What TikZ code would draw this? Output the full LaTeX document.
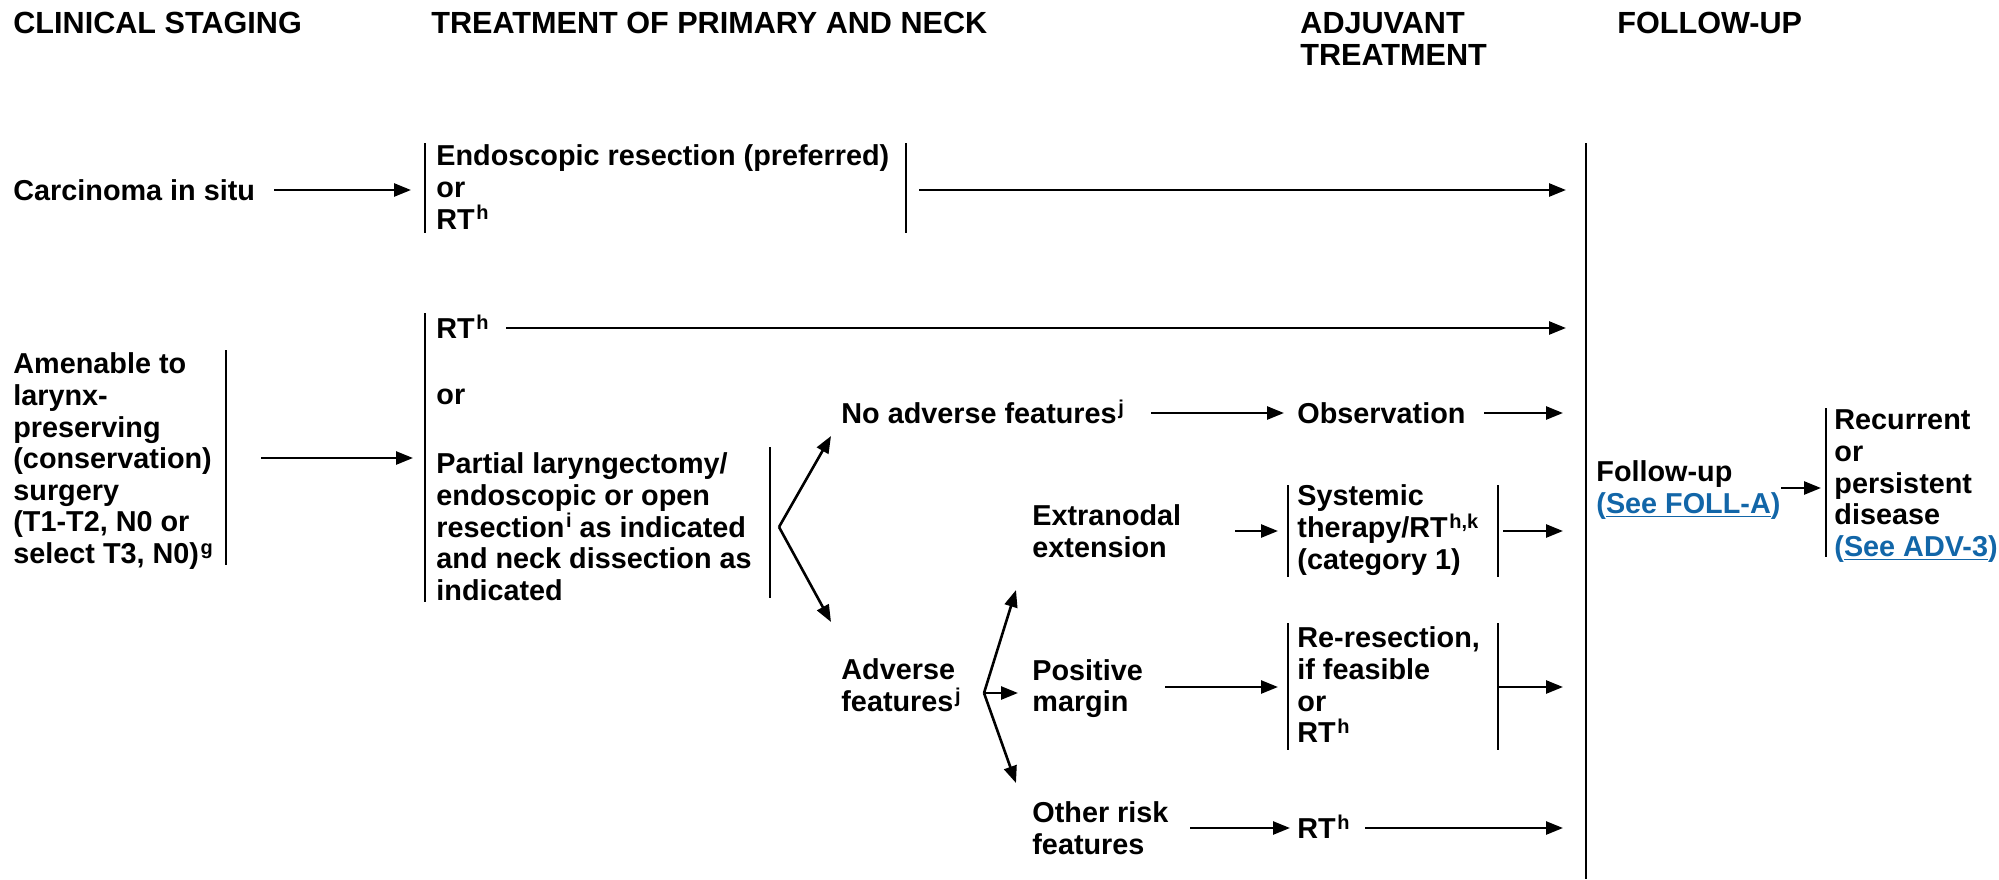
\documentclass[tikz,border=0pt]{standalone}
\usepackage{fontspec}
\setmainfont{Liberation Sans}
\usetikzlibrary{arrows.meta}
\definecolor{linkblue}{RGB}{18,102,168}
% raised footnote letter
\newcommand\sups[1]{\kern0.8pt\raisebox{4.6pt}{\fontsize{10}{10}\selectfont #1}}
% cross-reference link
\newcommand\lnk[1]{\textcolor{linkblue}{(\underline{#1})}}

\begin{document}
\begin{tikzpicture}[x=0.5pt,y=-0.5pt,
  every node/.style={inner sep=0pt, font=\fontsize{14.4}{15.8}\selectfont\bfseries},
  txt/.style={anchor=base west},
  blk/.style={anchor=north west, align=left},
  hd/.style={anchor=base west, font=\fontsize{15.3}{16}\selectfont\bfseries},
  bar/.style={line width=1.3pt},
  arr/.style={line width=1.3pt, -{Triangle[length=8.5pt,width=6.5pt]}}]

\path[use as bounding box] (0,0) rectangle (1999,879);

% column headings
\node[hd] (hStage) at (13,33) {CLINICAL STAGING};
\node[hd] (hTreat) at (431,33) {TREATMENT OF PRIMARY AND NECK};
\node[hd, anchor=north west, align=left] (hAdj) at (1300,12) {ADJUVANT\\TREATMENT};
\node[hd] (hFoll) at (1617,33) {FOLLOW-UP};

% carcinoma in situ
\node[txt] (cis) at (13,200.2) {Carcinoma in situ};
\node[blk] (endo) at (436,144.6) {Endoscopic resection (preferred)\\or\\RT\sups{h}};
\coordinate (cisA) at (274,190);  \coordinate (cisB) at (411,190);
\coordinate (endoL1) at (425,143); \coordinate (endoL2) at (425,233);
\coordinate (endoR1) at (906,143); \coordinate (endoR2) at (906,233);
\coordinate (endoA) at (919,190); \coordinate (endoB) at (1566,190);
\draw[arr] (cisA) -- (cisB);
\draw[bar] (endoL1) -- (endoL2);
\draw[bar] (endoR1) -- (endoR2);
\draw[arr] (endoA) -- (endoB);

% larynx-preserving surgery
\node[blk] (amen) at (13,352.6) {Amenable to\\larynx-\\preserving\\(conservation)\\surgery\\(T1-T2, N0 or\\select T3, N0)\sups{g}};
\coordinate (amenR1) at (226,350); \coordinate (amenR2) at (226,565);
\draw[bar] (amenR1) -- (amenR2);
\coordinate (amenA) at (261,458); \coordinate (amenB) at (413,458);
\draw[arr] (amenA) -- (amenB);

\coordinate (mainL1) at (425,313); \coordinate (mainL2) at (425,602);
\draw[bar] (mainL1) -- (mainL2);
\node[txt] (rt2) at (436,338.2) {RT\sups{h}};
\coordinate (rt2A) at (506,328); \coordinate (rt2B) at (1566,328);
\draw[arr] (rt2A) -- (rt2B);
\node[txt] (or2) at (436,404) {or};
\node[blk] (part) at (436,452.6) {Partial laryngectomy/\\endoscopic or open\\resection\sups{i} as indicated\\and neck dissection as\\indicated};
\coordinate (partR1) at (770,447); \coordinate (partR2) at (770,598);
\draw[bar] (partR1) -- (partR2);

% pathology branches
\coordinate (fanA) at (779,527);
\coordinate (fanUp) at (831,436); \coordinate (fanDn) at (831,622);
\draw[arr] (fanA) -- (fanUp);
\draw[arr] (fanA) -- (fanDn);

\node[txt] (noadv) at (841,423.2) {No adverse features\sups{j}};
\node[txt] (obs) at (1297,423.2) {Observation};
\coordinate (noadvA) at (1151,413); \coordinate (noadvB) at (1284,413);
\coordinate (obsA) at (1484,413); \coordinate (obsB) at (1563,413);
\draw[arr] (noadvA) -- (noadvB);
\draw[arr] (obsA) -- (obsB);

\node[blk] (adv) at (841,658.6) {Adverse\\features\sups{j}};
\coordinate (advA) at (984,693);
\coordinate (advUp) at (1016,590); \coordinate (advMid) at (1018,693); \coordinate (advDn) at (1016,783);
\draw[arr] (advA) -- (advUp);
\draw[arr] (advA) -- (advMid);
\draw[arr] (advA) -- (advDn);

% extranodal extension
\node[blk] (ext) at (1032,504.6) {Extranodal\\extension};
\node[blk] (sys) at (1297,484.6) {Systemic\\therapy/RT\sups{h,k}\\(category 1)};
\coordinate (extA) at (1235,531); \coordinate (extB) at (1278,531);
\coordinate (sysL1) at (1288,485); \coordinate (sysL2) at (1288,577);
\coordinate (sysR1) at (1498,485); \coordinate (sysR2) at (1498,577);
\coordinate (sysA) at (1503,531); \coordinate (sysB) at (1563,531);
\draw[arr] (extA) -- (extB);
\draw[bar] (sysL1) -- (sysL2);
\draw[bar] (sysR1) -- (sysR2);
\draw[arr] (sysA) -- (sysB);

% positive margin
\node[blk] (pos) at (1032,658.8) {Positive\\margin};
\node[blk] (rer) at (1297,626.6) {Re-resection,\\if feasible\\or\\RT\sups{h}};
\coordinate (posA) at (1165,687); \coordinate (posB) at (1278,687);
\coordinate (rerL1) at (1288,623); \coordinate (rerL2) at (1288,750);
\coordinate (rerR1) at (1498,623); \coordinate (rerR2) at (1498,750);
\coordinate (rerA) at (1498,687); \coordinate (rerB) at (1563,687);
\draw[arr] (posA) -- (posB);
\draw[bar] (rerL1) -- (rerL2);
\draw[bar] (rerR1) -- (rerR2);
\draw[arr] (rerA) -- (rerB);

% other risk features
\node[blk] (oth) at (1032,801.6) {Other risk\\features};
\node[txt] (rt3) at (1297,838.2) {RT\sups{h}};
\coordinate (othA) at (1190,828); \coordinate (othB) at (1290,828);
\coordinate (rt3A) at (1365,828); \coordinate (rt3B) at (1563,828);
\draw[arr] (othA) -- (othB);
\draw[arr] (rt3A) -- (rt3B);

% follow-up
\coordinate (follT) at (1586,143); \coordinate (follB) at (1586,879);
\draw[bar] (follT) -- (follB);
\node[blk] (foll) at (1596,460.6) {Follow-up\\\lnk{See FOLL-A}};
\coordinate (follA) at (1781,488); \coordinate (follZ) at (1821,488);
\draw[arr] (follA) -- (follZ);
\coordinate (recL1) at (1826,408); \coordinate (recL2) at (1826,557);
\draw[bar] (recL1) -- (recL2);
\node[blk] (rec) at (1834,409.6) {Recurrent\\or\\persistent\\disease\\\lnk{See ADV-3}};
\end{tikzpicture}
\end{document}
